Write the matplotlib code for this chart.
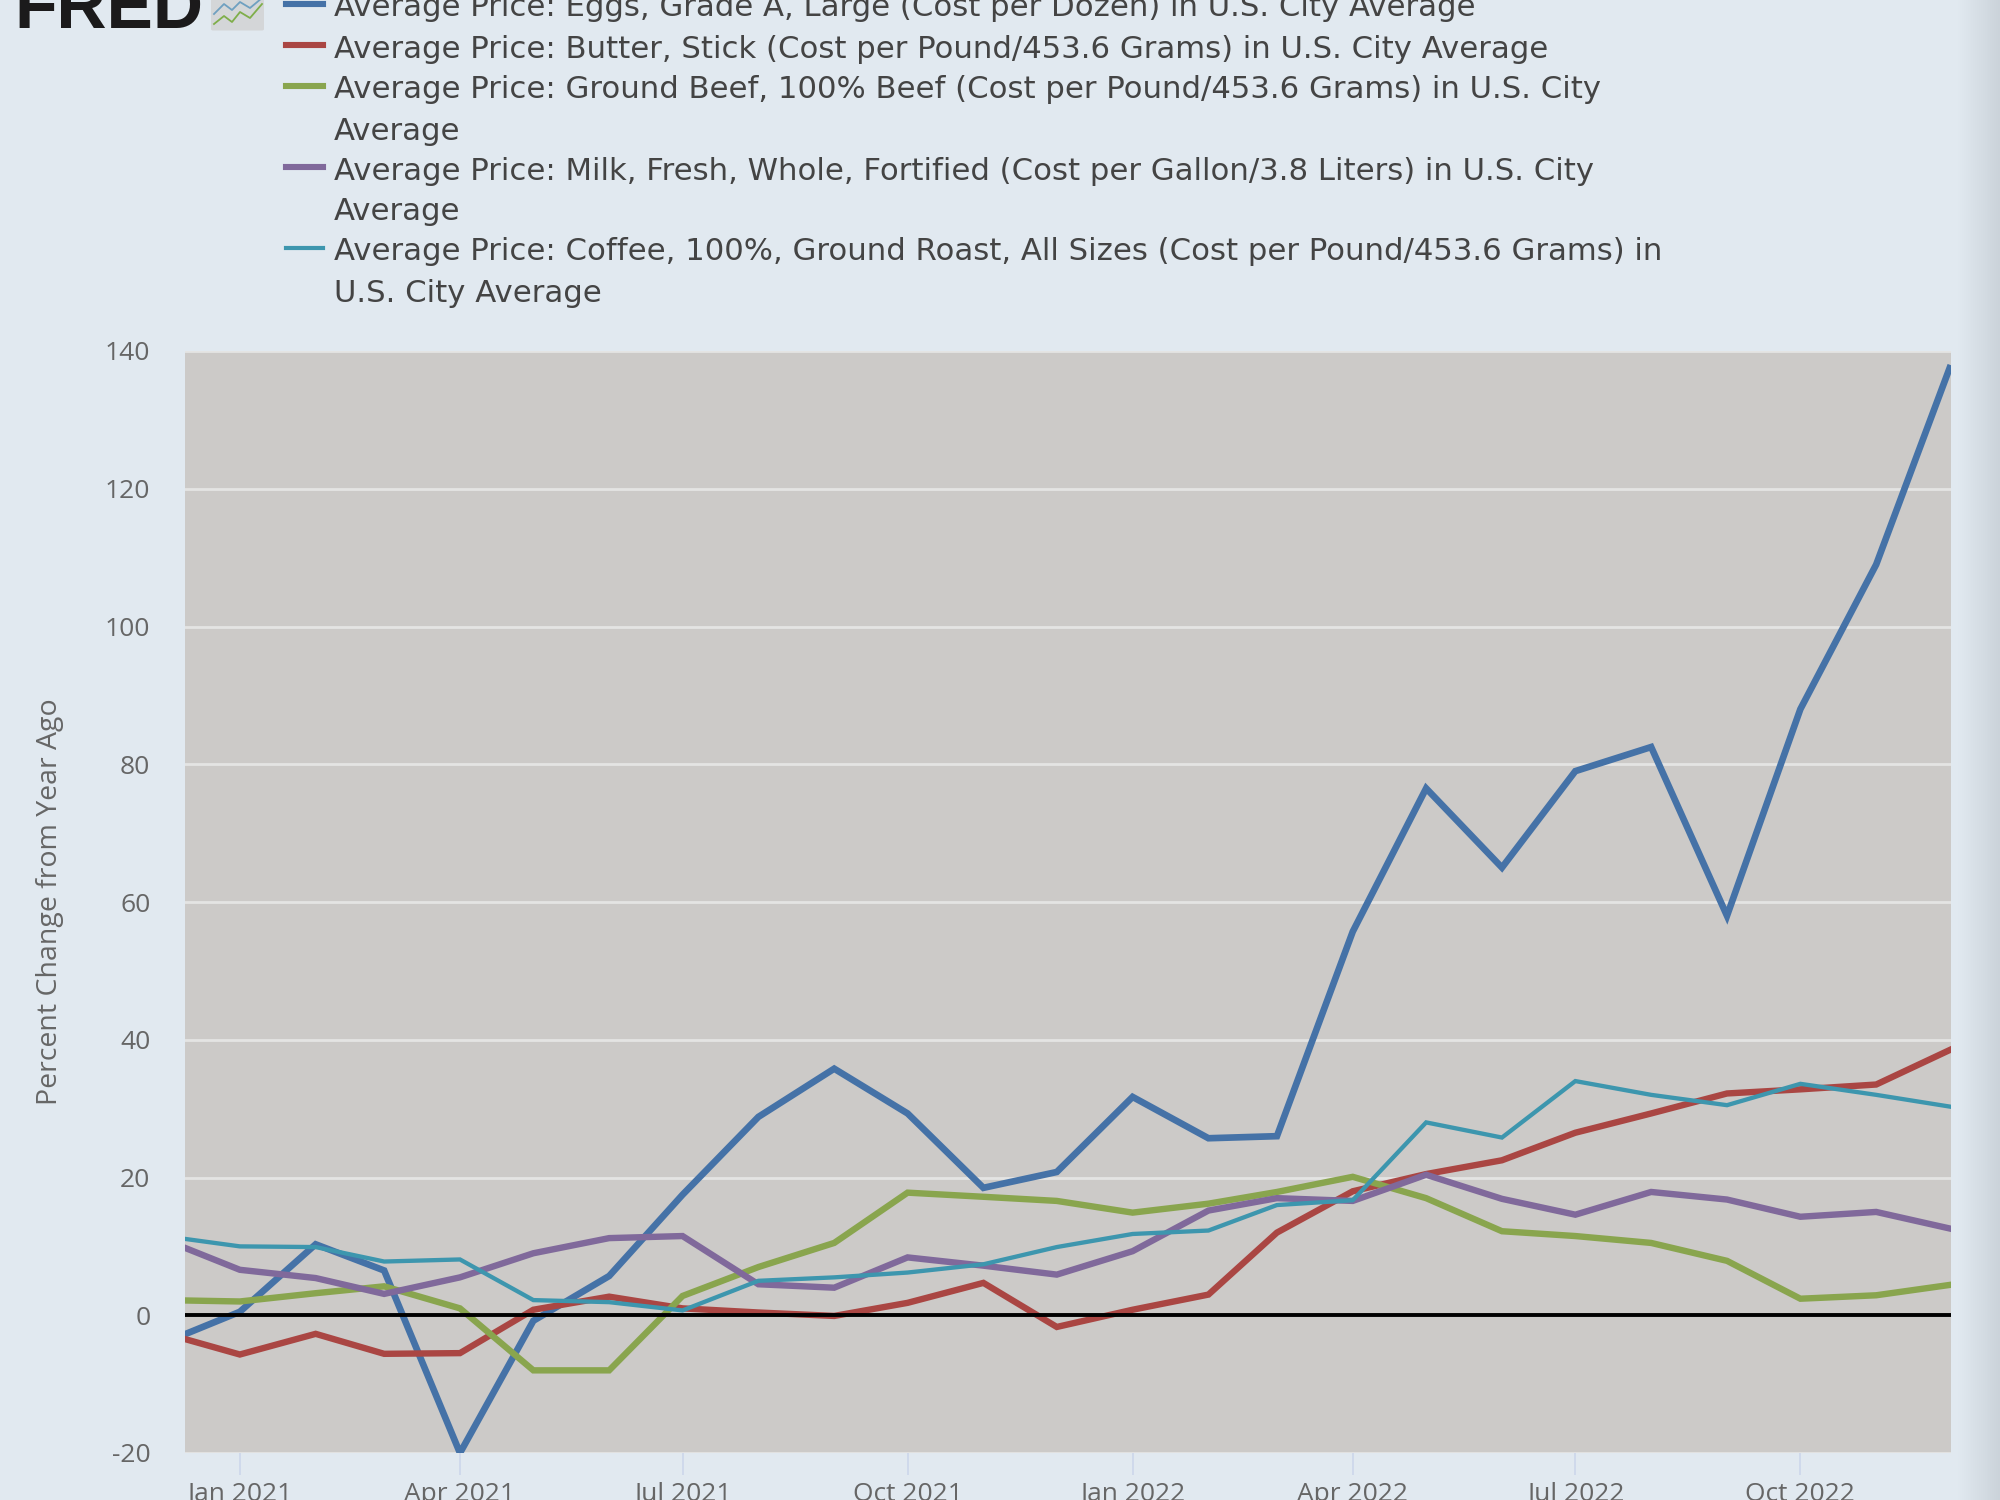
import numpy as np
import pandas as pd
import matplotlib
matplotlib.use('Agg')
from matplotlib import pyplot as plt
from matplotlib.lines import Line2D
from matplotlib.patches import FancyBboxPatch

plt.rcParams['font.family'] = ['Open Sans', 'DejaVu Sans']
plt.rcParams['axes.unicode_minus'] = False

# monthly values, Dec 2020 to Dec 2022
months = pd.date_range('2020-12-01', '2022-12-01', freq='MS')
eggs = [-4.0, 0.5, 10.3, 6.5, -20, -0.8, 5.7, 17.5, 28.8, 35.8, 29.3, 18.5, 20.8,
        31.7, 25.7, 26, 55.7, 76.5, 65, 79, 82.5, 58, 88, 109, 137.5]
butter = [-2.6, -5.7, -2.7, -5.6, -5.5, 0.8, 2.7, 1, 0.4, -0.1, 1.8, 4.7, -1.7,
          0.8, 3, 12, 18, 20.5, 22.5, 26.5, 29.3, 32.2, 32.8, 33.5, 38.5]
beef = [2.2, 2, 3.2, 4.2, 1, -8, -8, 2.8, 7, 10.5, 17.8, 17.2, 16.6,
        14.9, 16.2, 17.9, 20.1, 17, 12.2, 11.5, 10.5, 7.9, 2.4, 2.9, 4.4]
milk = [11, 6.6, 5.4, 3.1, 5.5, 9, 11.2, 11.5, 4.5, 4, 8.4, 7.2, 5.9,
        9.3, 15.2, 17, 16.6, 20.4, 16.9, 14.6, 17.9, 16.8, 14.3, 15, 12.6]
coffee = [11.5, 10, 9.9, 7.8, 8.1, 2.2, 1.9, 0.7, 5, 5.5, 6.2, 7.4, 9.9,
          11.8, 12.3, 16, 16.7, 28, 25.8, 34, 32, 30.5, 33.6, 32, 30.3]

y_ticks = [-20, 0, 20, 40, 60, 80, 100, 120, 140]
x_ticks = ['2021-01-01', '2021-04-01', '2021-07-01', '2021-10-01',
           '2022-01-01', '2022-04-01', '2022-07-01', '2022-10-01']
x_labels = ['Jan 2021', 'Apr 2021', 'Jul 2021', 'Oct 2021',
            'Jan 2022', 'Apr 2022', 'Jul 2022', 'Oct 2022']

series = [eggs, butter, beef, milk, coffee]
colors = ['#4572a7', '#aa4643', '#89a54e', '#80699b', '#3d96ae']
widths = [4.8, 4.6, 4.6, 4.6, 3.1]

# legend rows: (series index or None for a wrapped line, text)
legend_rows = [
    (0, 'Average Price: Eggs, Grade A, Large (Cost per Dozen) in U.S. City Average'),
    (1, 'Average Price: Butter, Stick (Cost per Pound/453.6 Grams) in U.S. City Average'),
    (2, 'Average Price: Ground Beef, 100% Beef (Cost per Pound/453.6 Grams) in U.S. City'),
    (None, 'Average'),
    (3, 'Average Price: Milk, Fresh, Whole, Fortified (Cost per Gallon/3.8 Liters) in U.S. City'),
    (None, 'Average'),
    (4, 'Average Price: Coffee, 100%, Ground Roast, All Sizes (Cost per Pound/453.6 Grams) in'),
    (None, 'U.S. City Average'),
]

W, H = 2000, 1500
bg = '#e1e9f0'
fig = plt.figure(figsize=(20, 15), dpi=100, facecolor=bg)

# shadow along the right edge
shade = fig.add_axes([1958 / W, 0, 42 / W, 1])
shade.imshow(np.linspace(0, 1, 64).reshape(1, -1), aspect='auto',
             cmap=matplotlib.colors.LinearSegmentedColormap.from_list('s', [bg, '#cbd3da']))
shade.axis('off')

ax = fig.add_axes([185 / W, 1 - 1453 / H, 1766 / W, 1102 / H], facecolor='#cccac8')
ax.set_axisbelow(True)
ax.yaxis.grid(True, color='#e4e4e3', lw=2)

for vals, c, lw in zip(series, colors, widths):
    ax.plot(months, vals, color=c, lw=lw, solid_joinstyle='miter', zorder=3)
ax.axhline(0, color='black', lw=2.8, zorder=4)

ax.set_xlim(pd.Timestamp('2020-12-09 14:00'), pd.Timestamp('2022-12-01 14:00'))
ax.set_ylim(-20, 140)
ax.set_yticks(y_ticks)
ax.set_xticks(pd.to_datetime(x_ticks))
ax.set_xticklabels(x_labels)
ax.tick_params(axis='y', length=0, pad=25, labelsize=19, labelcolor='#666666')
ax.tick_params(axis='x', length=16, width=1.2, color='#ccd6eb', pad=5, labelsize=19, labelcolor='#666666')
for s in ax.spines.values():
    s.set_visible(False)
ax.set_ylabel('Percent Change from Year Ago', fontsize=20.5, color='#666666')
ax.yaxis.set_label_coords((64 - 185) / 1766, 0.5)

# legend, written by hand so the wrapped rows match
row_y = [6, 47, 88, 129, 169, 210, 250, 291]
for (idx, txt), y in zip(legend_rows, row_y):
    fig.text(334 / W, 1 - (y + 2) / H, txt, fontsize=22.15, color='#444444', va='center', ha='left',
             family=['DejaVu Sans'])
    if idx is not None:
        fig.add_artist(Line2D([286 / W, 323 / W], [1 - (y - 2) / H] * 2, color=colors[idx],
                              lw=4.4 if idx != 4 else 3, transform=fig.transFigure))

# FRED logo, cut off by the top of the frame
fig.text(14 / W, 1 - 28 / H, 'FRED', fontsize=50, fontweight='bold', color='#1b1a1b',
         family=['Liberation Sans'], va='baseline', ha='left')
fig.add_artist(FancyBboxPatch((213 / W, 1 - 29 / H), 49 / W, 40 / H, boxstyle='round,pad=0.001',
                              transform=fig.transFigure, facecolor='#d4d6d8', edgecolor='none'))
fig.add_artist(Line2D(np.array([214, 224, 232, 240, 250, 262]) / W,
                      1 - np.array([14, 4, 10, 2, 8, -2]) / H, color='#6fa0c0', lw=1.3))
fig.add_artist(Line2D(np.array([214, 224, 232, 240, 250, 262]) / W,
                      1 - np.array([24, 16, 22, 12, 18, 4]) / H, color='#7fae4a', lw=1.3))

fig.savefig('out.png', dpi=100, facecolor=bg)
